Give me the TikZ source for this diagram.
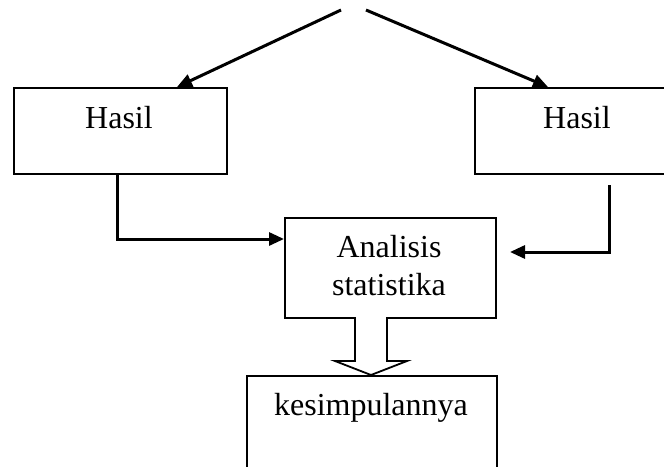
\documentclass[tikz,border=0pt]{standalone}
\usepackage{fontspec}
\setmainfont{Liberation Serif}
\usetikzlibrary{arrows.meta}
\begin{document}
\begin{tikzpicture}[x=1pt,y=-1pt,
  boxshape/.style={draw,line width=1.8pt,rectangle,anchor=north west,inner sep=0pt},
  lbl/.style={anchor=base,inner sep=0pt,font=\fontsize{32}{38}\selectfont},
  conn/.style={line width=3pt,-{Triangle[length=15pt,width=13pt]}},
  hollow/.style={draw,line width=1.8pt,fill=white,line join=miter}]
\useasboundingbox (0,0) rectangle (664,466);
% boxes
\node[boxshape,minimum width=213pt,minimum height=86pt] (hl) at (13,87) {};
\node[boxshape,minimum width=210pt,minimum height=86pt] (hr) at (474,87) {};
\node[boxshape,minimum width=211pt,minimum height=100pt] (an) at (284,217) {};
\node[boxshape,minimum width=250pt,minimum height=110pt] (ks) at (246,375) {};
% labels
\node[lbl] (thl) at (119,128) {Hasil};
\node[lbl] (thr) at (577,128) {Hasil};
\node[lbl] (tan1) at (389,257) {Analisis};
\node[lbl] (tan2) at (389,295) {statistika};
\node[lbl] (tks) at (371,415) {kesimpulannya};
% top arrows
\coordinate (topL) at (341,10);
\coordinate (topR) at (366,10);
\coordinate (hlin) at (177,87);
\coordinate (hrin) at (548,87);
\draw[conn] (topL) -- (hlin);
\draw[conn] (topR) -- (hrin);
% side connectors
\coordinate (hlout) at (117,173);
\coordinate (anin) at (284,239);
\draw[conn] (hlout) |- (anin);
\coordinate (hrout) at (609,185);
\coordinate (anin2) at (510,252);
\draw[conn] (hrout) |- (anin2);
% hollow arrow
\path[hollow] (355,317) -- (355,361) -- (335,361) -- (371,375) -- (407,361) -- (387,361) -- (387,317);
\end{tikzpicture}
\end{document}
